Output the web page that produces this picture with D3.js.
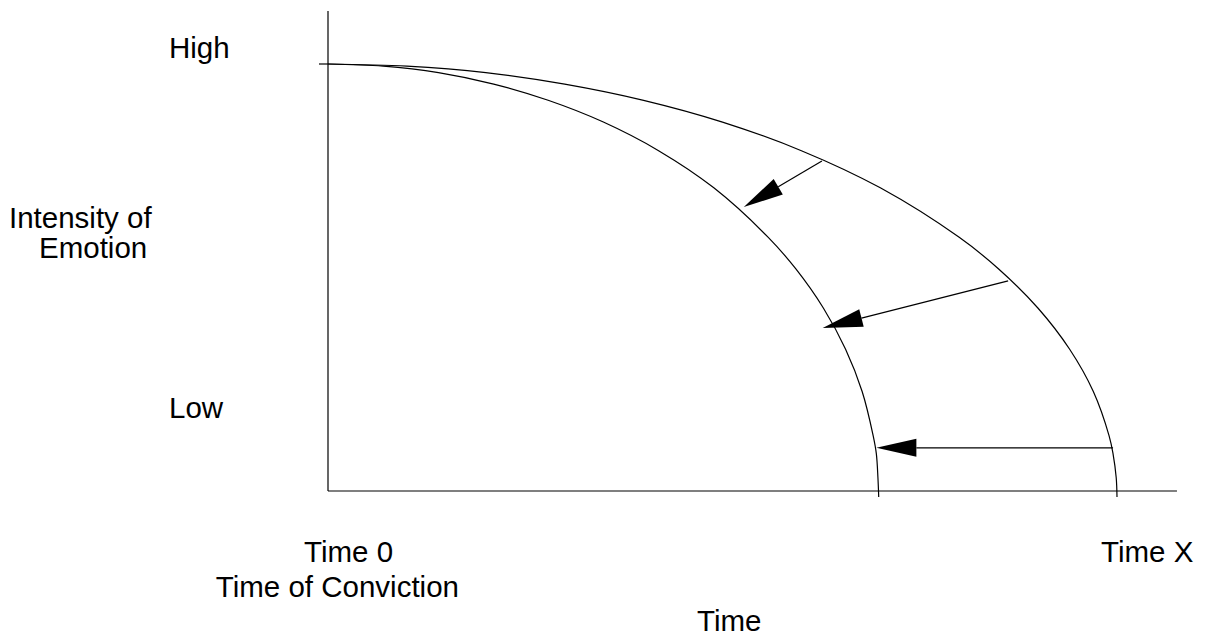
<!DOCTYPE html>
<html>
<head>
<meta charset="utf-8">
<script src="https://cdn.jsdelivr.net/npm/d3@7"></script>
<style>
  html, body { margin: 0; padding: 0; background: #fff; }
  svg text { font-family: "Liberation Sans", Arial, sans-serif; fill: #000; }
</style>
</head>
<body>
<svg id="chart" width="1206" height="639"></svg>
<script>
// ---- Data (x: time 0..100 = Time 0..Time X, y: intensity 0..100 = axis..High)
const outerX = [0, 10, 20, 30, 40, 50, 60, 70, 80, 85, 90, 94, 97, 99, 99.5, 99.9, 100];
const outerY = [100, 99.5, 98, 95.3, 91.5, 86.4, 79.7, 71, 59.4, 52, 42.8, 33.2, 23.3, 12.9, 8.7, 3.1, -1.4];
const innerX = [0, 7, 14, 21, 27.9, 34.9, 41.9, 48.9, 55.8, 59.3, 62.8, 65.6, 67.7, 69.1, 69.5, 69.7, 69.8];
const innerY = [100, 99.5, 98, 95.3, 91.5, 86.4, 79.7, 71, 59.4, 52, 42.8, 33.2, 23.3, 12.9, 8.7, 3.1, -1.4];

// arrows: from point on outer curve to point on inner curve
const arrowFromX = [62.6, 86.2, 99.5];
const arrowFromY = [77.3, 49.2, 10.1];
const arrowToX   = [52.7, 62.7, 69.5];
const arrowToY   = [66.5, 38.2, 10.1];

const yTickLabels = ["High", "Low"];
const yTickValues = [100, 15.7];
const xTickLabels = ["Time 0", "Time X"];
const xTickValues = [0, 100];

const xAxisEnd = 107.6;
const yAxisEnd = 112.4;

// ---- Scales
const x = d3.scaleLinear().domain([0, 100]).range([328, 1117]);
const y = d3.scaleLinear().domain([0, 100]).range([491, 64]);

const svg = d3.select("#chart");
const g = svg.append("g");

// axes
g.append("line")
  .attr("x1", x(0)).attr("x2", x(0))
  .attr("y1", y(0)).attr("y2", y(yAxisEnd))
  .attr("stroke", "#000").attr("stroke-width", 1.2);
g.append("line")
  .attr("x1", x(0)).attr("x2", x(xAxisEnd))
  .attr("y1", y(0)).attr("y2", y(0))
  .attr("stroke", "#000").attr("stroke-width", 1.2);
// top tick (High)
g.append("line")
  .attr("x1", x(0) - 9).attr("x2", x(0))
  .attr("y1", y(100)).attr("y2", y(100))
  .attr("stroke", "#000").attr("stroke-width", 1.2);

// curves
const line = d3.line()
  .x(d => x(d[0])).y(d => y(d[1]))
  .curve(d3.curveCatmullRom.alpha(0.5));
const outerPts = outerX.map((v, i) => [v, outerY[i]]);
const innerPts = innerX.map((v, i) => [v, innerY[i]]);
[outerPts, innerPts].forEach(pts => {
  g.append("path").attr("d", line(pts))
    .attr("fill", "none").attr("stroke", "#000").attr("stroke-width", 1.2);
});

// arrows
const headLen = 40, headHalf = 9;
arrowFromX.forEach((fx, i) => {
  const x1 = x(fx), y1 = y(arrowFromY[i]);
  const x2 = x(arrowToX[i]), y2 = y(arrowToY[i]);
  const dx = x2 - x1, dy = y2 - y1;
  const L = Math.hypot(dx, dy);
  const ux = dx / L, uy = dy / L;
  const bx = x2 - ux * headLen, by = y2 - uy * headLen;
  g.append("line")
    .attr("x1", x1).attr("y1", y1).attr("x2", bx).attr("y2", by)
    .attr("stroke", "#000").attr("stroke-width", 1.2);
  const pts = [
    [x2, y2],
    [bx - uy * headHalf, by + ux * headHalf],
    [bx + uy * headHalf, by - ux * headHalf]
  ];
  g.append("polygon")
    .attr("points", pts.map(p => p.join(",")).join(" "))
    .attr("fill", "#000");
});

const fs = 29.5;
// y tick labels (left-aligned at x=169, baseline 6px above the value)
yTickLabels.forEach((t, i) => {
  g.append("text").attr("x", 169).attr("y", y(yTickValues[i]) - 6)
    .attr("font-size", fs).text(t);
});
// y axis title
const yTitle = g.append("text").attr("font-size", fs);
yTitle.append("tspan").attr("x", 9).attr("y", 228).text("Intensity of");
yTitle.append("tspan").attr("x", 39).attr("y", 258).text("Emotion");

// x tick labels
g.append("text").attr("x", x(xTickValues[0]) - 24).attr("y", 562)
  .attr("font-size", fs).text(xTickLabels[0]);
g.append("text").attr("x", x(xTickValues[1]) - 16).attr("y", 562)
  .attr("font-size", fs).text(xTickLabels[1]);
g.append("text").attr("x", 459).attr("y", 597).attr("text-anchor", "end")
  .attr("font-size", fs).text("Time of Conviction");
// x axis title
g.append("text").attr("x", 697).attr("y", 631)
  .attr("font-size", fs).text("Time");
</script>
</body>
</html>
